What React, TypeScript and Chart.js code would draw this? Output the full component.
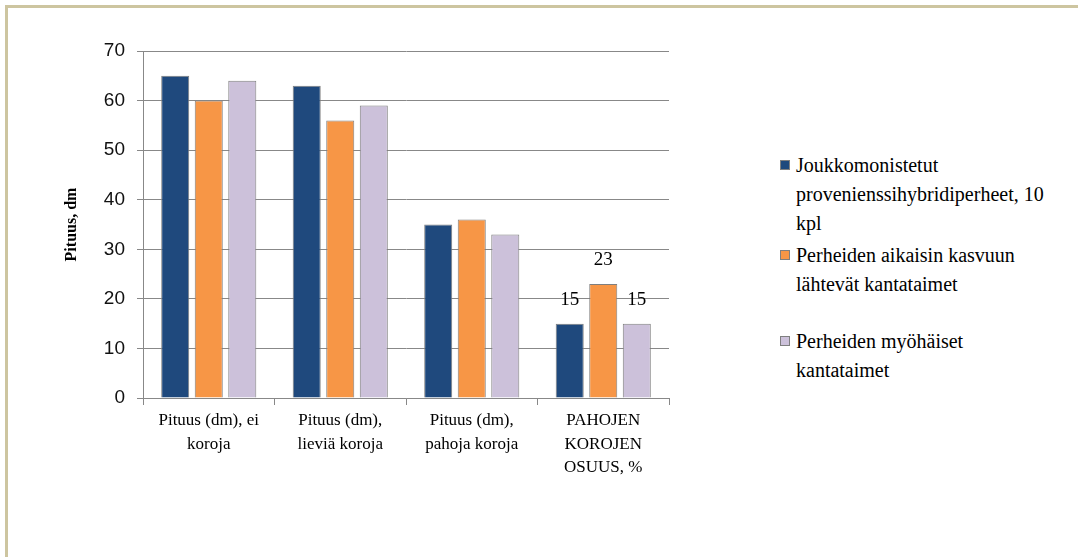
import React, { useEffect, useRef } from "react";
import { Chart, registerables } from "chart.js";

Chart.register(...registerables);

// Category labels on the x axis (one entry per line)
const categories: string[][] = [
  ["Pituus (dm), ei", "koroja"],
  ["Pituus (dm),", "lieviä koroja"],
  ["Pituus (dm),", "pahoja koroja"],
  ["PAHOJEN", "KOROJEN", "OSUUS, %"],
];

// Series names, split into the lines shown in the legend
const seriesNames: string[][] = [
  ["Joukkomonistetut", "provenienssihybridiperheet, 10", "kpl"],
  ["Perheiden aikaisin kasvuun", "lähtevät kantataimet"],
  ["Perheiden myöhäiset", "kantataimet"],
];

const familyValues = [65, 63, 35, 15];
const earlyValues = [60, 56, 36, 23];
const lateValues = [64, 59, 33, 15];

const seriesColors = ["#1f497d", "#f79646", "#ccc1da"];

// Y axis range
const yMin = 0;
const yMax = 70;
const yStep = 10;

// Only the share-of-damage category carries value labels
const labelledIndex = 3;

const axisTitle = "Pituus, dm";

const gridColor = "#888888";
const barBorder = "#7f7f7f";
const serif = "'Liberation Serif', 'DejaVu Serif', serif";

const valueLabels = {
  id: "valueLabels",
  afterDatasetsDraw(chart: any) {
    const ctx = chart.ctx;
    ctx.save();
    ctx.font = `19px ${serif}`;
    ctx.fillStyle = "#000";
    ctx.textAlign = "center";
    ctx.textBaseline = "middle";
    chart.data.datasets.forEach((ds: any, i: number) => {
      const bar = chart.getDatasetMeta(i).data[labelledIndex];
      if (!bar) return;
      ctx.fillText(String(ds.data[labelledIndex]), bar.x, bar.y - 24);
    });
    ctx.restore();
  },
};

function BarChart() {
  const ref = useRef<HTMLCanvasElement | null>(null);

  useEffect(() => {
    if (!ref.current) return;
    const values = [familyValues, earlyValues, lateValues];
    const chart = new Chart(ref.current, {
      type: "bar",
      data: {
        labels: categories as any,
        datasets: values.map((v, i) => ({
          label: seriesNames[i].join(" "),
          data: v,
          backgroundColor: seriesColors[i],
          borderColor: barBorder,
          borderWidth: 1,
          barPercentage: 0.836,
          categoryPercentage: 0.765,
        })),
      },
      options: {
        responsive: false,
        animation: false,
        layout: { padding: { top: 51, left: 60, right: 31, bottom: 59 } },
        plugins: {
          legend: { display: false },
          tooltip: { enabled: false },
        },
        scales: {
          x: {
            offset: true,
            grid: {
              offset: true,
              drawOnChartArea: false,
              drawTicks: true,
              tickLength: 7,
              color: gridColor,
            },
            border: { display: true, color: gridColor },
            ticks: {
              autoSkip: false,
              maxRotation: 0,
              minRotation: 0,
              padding: 4,
              color: "#000",
              font: { family: serif, size: 17, lineHeight: 1.38 },
            },
            afterFit: (scale: any) => {
              scale.height = 100;
            },
          },
          y: {
            min: yMin,
            max: yMax,
            grid: {
              color: gridColor,
              drawTicks: true,
              tickLength: 6,
            },
            border: { display: true, color: gridColor },
            ticks: {
              stepSize: yStep,
              padding: 12,
              color: "#111",
              font: { family: "'Liberation Sans', Arial, sans-serif", size: 19 },
            },
            title: {
              display: true,
              text: axisTitle,
              color: "#000",
              padding: { top: 2, bottom: 0 },
              font: { family: serif, size: 16, weight: "bold" },
            },
            afterFit: (scale: any) => {
              scale.width = 83;
            },
          },
        },
      },
      plugins: [valueLabels],
    });
    return () => chart.destroy();
  }, []);

  return (
    <canvas
      ref={ref}
      width={700}
      height={557}
      style={{ position: "absolute", left: 0, top: 0, width: 700, height: 557 }}
    />
  );
}

// Legend item tops (first text line)
const legendTops = [151, 241, 327];

function Legend() {
  return (
    <>
      {seriesNames.map((lines, i) => (
        <div
          key={i}
          style={{
            position: "absolute",
            left: 780,
            top: legendTops[i],
            fontFamily: serif,
            fontSize: 20,
            lineHeight: "29px",
            color: "#000",
            whiteSpace: "nowrap",
          }}
        >
          <div
            style={{
              position: "absolute",
              left: 0,
              top: 9,
              width: 8,
              height: 8,
              background: seriesColors[i],
              border: `1px solid ${barBorder}`,
            }}
          />
          <div style={{ marginLeft: 16 }}>
            {lines.map((l, j) => (
              <div key={j}>{l}</div>
            ))}
          </div>
        </div>
      ))}
    </>
  );
}

export default function App() {
  return (
    <div
      style={{
        position: "absolute",
        left: 0,
        top: 0,
        width: 1078,
        height: 557,
        overflow: "hidden",
        background: "#fff",
      }}
    >
      <div
        style={{
          position: "absolute",
          left: 5,
          top: 5,
          width: 1200,
          height: 700,
          borderLeft: "3px solid #cdc5a0",
          borderTop: "3px solid #cdc5a0",
        }}
      />
      <BarChart />
      <Legend />
    </div>
  );
}
